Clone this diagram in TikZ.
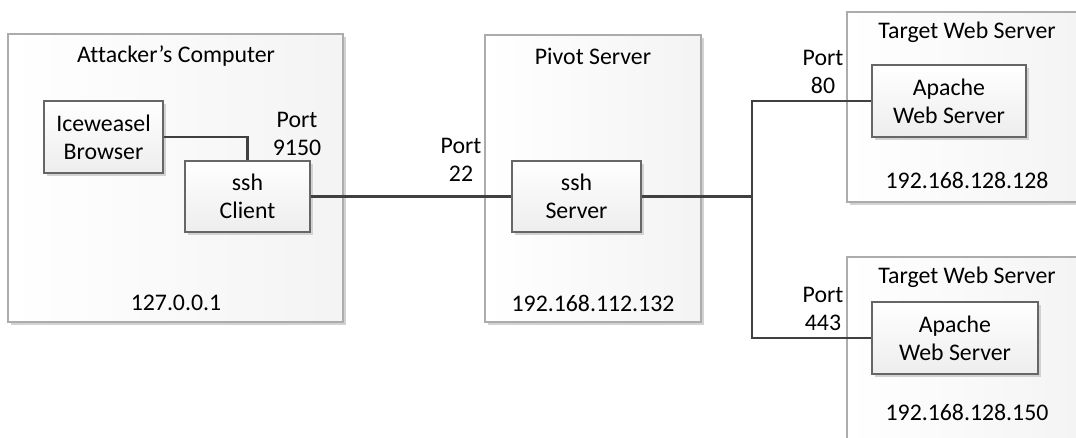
\documentclass[tikz,border=0pt]{standalone}
\usepackage{fontspec}
\setmainfont[Ligatures={NoCommon,NoContextual}]{Carlito}
\usetikzlibrary{shadows}

\tikzset{
    hostbox/.style={draw=gray!65,line width=1.2pt,left color=white,right color=gray!9,
        drop shadow={shadow xshift=3pt,shadow yshift=-3pt,fill=gray!35,opacity=1}},
    appbox/.style={draw=gray!80!black,line width=1.2pt,top color=white,bottom color=gray!14,
        drop shadow={shadow xshift=3pt,shadow yshift=-3pt,fill=gray!35,opacity=1},
        align=center},
    lbl/.style={align=center,inner sep=0pt},
    wire/.style={draw=black!75,line width=2.4pt}
}

\begin{document}
\begin{tikzpicture}[x=1pt,y=-1pt,font=\fontsize{23.8}{28}\selectfont]
    \clip (0,0) rectangle (1076,438);
    \fill[white] (0,0) rectangle (1076,438);

    \node[hostbox,minimum width=335,minimum height=288] (attacker) at (175.5,178) {};
    \node[hostbox,minimum width=216,minimum height=287] (pivot) at (593,178.5) {};
    \node[hostbox,minimum width=240,minimum height=190] (target1) at (967,107) {};
    \node[hostbox,minimum width=240,minimum height=200] (target2) at (967,357) {};

    \node[lbl] (attackertitle) at (176,56) {At\kern0pt tacker’s Computer};
    \node[lbl] (attackerip) at (176,303) {127.0.0.1};
    \node[lbl] (pivottitle) at (593,56) {Pivot Server};
    \node[lbl] (pivotip) at (593,303) {192.168.112.132};
    \node[lbl] (target1title) at (967,32) {Target Web Server};
    \node[lbl] (target1ip) at (967,180) {192.168.128.128};
    \node[lbl] (target2title) at (967,277) {Target Web Server};
    \node[lbl] (target2ip) at (967,412) {192.168.128.150};

    \node[appbox,minimum width=119,minimum height=72] (iceweasel) at (103.5,137) {Iceweasel\\Browser};
    \node[appbox,minimum width=125,minimum height=71] (sshclient) at (247.5,196.5) {ssh\\Client};
    \node[appbox,minimum width=129,minimum height=71] (sshserver) at (576.5,196.5) {ssh\\Server};
    \node[appbox,minimum width=154,minimum height=72] (apache1) at (949,101) {Apache\\Web Server};
    \node[appbox,minimum width=166,minimum height=72] (apache2) at (955,338) {Apache\\Web Server};

    \node[lbl] (port9150) at (297,133.5) {Port\\9150};
    \node[lbl] (port22) at (461,160) {Port\\22};
    \node[lbl] (port80) at (823,71.5) {Port\\80};
    \node[lbl] (port443) at (823,308.5) {Port\\443};

    \coordinate (junc) at (752,196.5);

    \draw[wire] (iceweasel.east) -| (sshclient.north);
    \draw[wire] (sshclient.east) -- (sshserver.west);
    \draw[wire] (sshserver.east) -- (junc);
    \draw[wire] (junc) |- (apache1.west);
    \draw[wire] (junc) |- (apache2.west);
\end{tikzpicture}
\end{document}
